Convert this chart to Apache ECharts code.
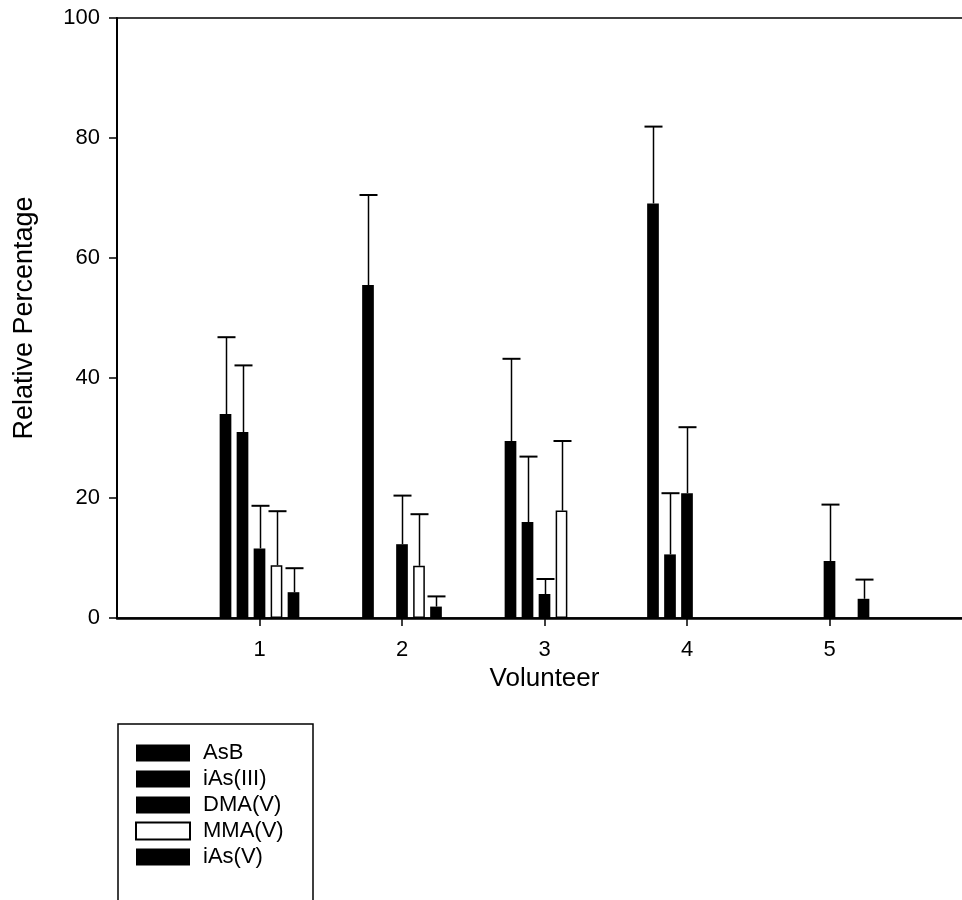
<!DOCTYPE html>
<html>
<head>
<meta charset="utf-8">
<script src="https://cdn.jsdelivr.net/npm/echarts@6/dist/echarts.min.js"></script>
<style>
  html, body { margin: 0; padding: 0; background: #fff; }
  #chart { width: 962px; height: 900px; }
</style>
</head>
<body>
<div id="chart"></div>
<script>
// empty slots at both ends so volunteer 1 sits one full step from the y axis
const categories = ["", "1", "2", "3", "4", "5", ""];
const seriesNames = ["AsB", "iAs(III)", "DMA(V)", "MMA(V)", "iAs(V)"];
const yTicks = [0, 20, 40, 60, 80, 100];

// mean values per volunteer
const asbValues = [null, 34.0, 55.5, 29.5, 69.1, null, null];
const iasIIIValues = [null, 31.0, null, 16.0, 10.6, null, null];
const dmaValues = [null, 11.6, 12.3, 4.0, 20.8, 9.5, null];
const mmaValues = [null, 8.8, 8.7, 17.9, null, null, null];
const iasVValues = [null, 4.3, 1.9, null, null, 3.2, null];

// upper error (SD)
const asbErr = [null, 12.8, 15.0, 13.7, 12.8, null, null];
const iasIIIErr = [null, 11.1, null, 10.9, 10.2, null, null];
const dmaErr = [null, 7.1, 8.1, 2.5, 11.0, 9.4, null];
const mmaErr = [null, 9.0, 8.6, 11.6, null, null, null];
const iasVErr = [null, 4.0, 1.7, null, null, 3.2, null];

const allValues = [asbValues, iasIIIValues, dmaValues, mmaValues, iasVValues];
const allErr = [asbErr, iasIIIErr, dmaErr, mmaErr, iasVErr];

const FONT = "Liberation Sans";
const BAR_W = 11.7;
const BAR_GAP = 5.3;

let chart = echarts.init(document.getElementById("chart"));

let series = [];
seriesNames.forEach(function (name, i) {
  let hollow = name === "MMA(V)";
  series.push({
    name: name,
    type: "bar",
    barWidth: BAR_W,
    barGap: (BAR_GAP / BAR_W * 100) + "%",
    data: allValues[i],
    itemStyle: {
      color: hollow ? "#fff" : "#000",
      borderColor: "#000",
      borderWidth: hollow ? 1.5 : 0
    },
    z: 2
  });
});

// error bars, one custom series per bar series
seriesNames.forEach(function (name, i) {
  let data = [];
  allValues[i].forEach(function (v, j) {
    if (v !== null) data.push([j, v, v + allErr[i][j]]);
  });
  let offset = (i - 2) * (BAR_W + BAR_GAP);
  series.push({
    name: "err-" + name,
    type: "custom",
    data: data,
    z: 3,
    silent: true,
    renderItem: function (params, api) {
      let base = api.coord([api.value(0), api.value(1)]);
      let top = api.coord([api.value(0), api.value(2)]);
      let x = Math.round(base[0] + offset) + 0.5;
      return {
        type: "group",
        children: [
          {
            type: "line",
            shape: { x1: x, y1: base[1], x2: x, y2: top[1] },
            style: { stroke: "#000", lineWidth: 1.5 }
          },
          {
            type: "line",
            shape: { x1: x - 9, y1: top[1], x2: x + 9, y2: top[1] },
            style: { stroke: "#000", lineWidth: 2 }
          }
        ]
      };
    }
  });
});

chart.setOption({
  animation: false,
  backgroundColor: "#fff",
  textStyle: { fontFamily: FONT, color: "#000" },
  grid: {
    left: 117,
    right: -10,
    top: 18,
    bottom: 282,
    outerBoundsMode: "none",
    show: true,
    borderColor: "#000",
    borderWidth: 1.5
  },
  // legend frame runs off the bottom of the page
  graphic: [{
    type: "rect",
    shape: { x: 118, y: 724, width: 195, height: 200 },
    style: { fill: "none", stroke: "#000", lineWidth: 1.5 },
    silent: true
  }],
  legend: {
    data: seriesNames,
    orient: "vertical",
    left: 135,
    top: 742,
    padding: 0,
    icon: "rect",
    itemWidth: 54,
    itemHeight: 17,
    itemGap: 4,
    selectedMode: false,
    textStyle: { fontSize: 22, color: "#000", fontFamily: FONT, padding: [0, 0, 0, 8] }
  },
  xAxis: {
    type: "category",
    data: categories,
    boundaryGap: false,
    name: "Volunteer",
    nameLocation: "middle",
    nameGap: 46,
    nameTextStyle: { fontSize: 26, color: "#000", fontFamily: FONT },
    axisLine: { lineStyle: { color: "#000", width: 2.5 } },
    axisTick: {
      length: 8,
      lineStyle: { color: "#000", width: 1.5 },
      interval: function (index, value) { return value !== ""; }
    },
    axisLabel: { interval: 0, fontSize: 22, color: "#000", margin: 21, fontFamily: FONT },
    splitLine: { show: false }
  },
  yAxis: {
    type: "value",
    min: yTicks[0],
    max: yTicks[yTicks.length - 1],
    interval: 20,
    name: "Relative Percentage",
    nameLocation: "middle",
    nameGap: 79,
    nameTextStyle: { fontSize: 27, color: "#000", fontFamily: FONT },
    axisLine: { show: true, lineStyle: { color: "#000", width: 2 } },
    axisTick: { show: true, length: 8, lineStyle: { color: "#000", width: 1.5 } },
    axisLabel: { fontSize: 22, color: "#000", margin: 17, fontFamily: FONT },
    splitLine: { show: false }
  },
  series: series
});
</script>
</body>
</html>
